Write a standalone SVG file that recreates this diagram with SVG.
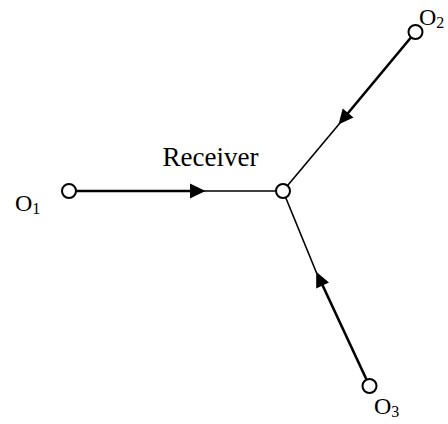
<svg xmlns="http://www.w3.org/2000/svg" width="448" height="424" viewBox="0 0 448 424">
<style>
.thick{stroke:#000;stroke-width:2.6;fill:none}
.thin{stroke:#000;stroke-width:1.6;fill:none}
.head{fill:#000;stroke:none}
.node{fill:#fff;stroke:#000;stroke-width:2}
.lbl{font-family:"Liberation Serif","Times New Roman",serif;fill:#000}
</style>
<rect width="448" height="424" fill="#fff"/>
<g id="connectors">
  <line class="thick" x1="69" y1="191" x2="192" y2="191"/>
  <line class="thin" x1="200" y1="191" x2="283" y2="191"/>
  <polygon class="head" points="205.5,191 190,183.5 190,198.5"/>
  <line class="thick" x1="415.5" y1="32" x2="346" y2="115.5"/>
  <line class="thin" x1="340" y1="123" x2="283" y2="191"/>
  <polygon class="head" points="338.5,124.5 353.5,117.5 342.7,108.5"/>
  <line class="thick" x1="369.5" y1="386" x2="321.5" y2="283"/>
  <line class="thin" x1="317" y1="274" x2="283" y2="191"/>
  <polygon class="head" points="316.2,271.8 329,282.4 316.2,288.4"/>
</g>
<g id="receiver">
  <circle class="node" cx="283" cy="191" r="7"/>
  <text class="lbl" x="162.5" y="165.5" font-size="27">Receiver</text>
</g>
<g id="O1">
  <circle class="node" cx="69" cy="191" r="7"/>
  <text class="lbl" x="15" y="210.5" font-size="24">O<tspan font-size="16" dy="3">1</tspan></text>
</g>
<g id="O2">
  <circle class="node" cx="415.5" cy="32" r="7"/>
  <text class="lbl" x="419" y="25" font-size="24">O<tspan font-size="16" dy="3">2</tspan></text>
</g>
<g id="O3">
  <circle class="node" cx="369.5" cy="386" r="7"/>
  <text class="lbl" x="374" y="413.5" font-size="24">O<tspan font-size="16" dy="3">3</tspan></text>
</g>
</svg>
